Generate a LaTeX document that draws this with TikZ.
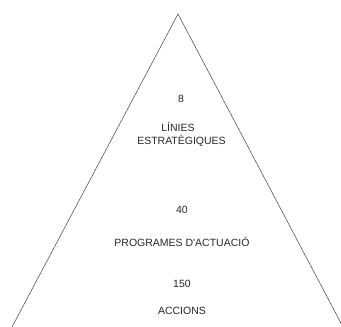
\documentclass[tikz,border=0pt]{standalone}
\usepackage{fontspec}
\setmainfont{Liberation Sans}
\usetikzlibrary{positioning}
\tikzstyle{costat} = [draw=black!75, line width=0.5pt]
\tikzstyle{nivell} = [inner sep=0pt, anchor=base, text=black!85, font=\fontsize{10.5}{12.6}\selectfont]
\tikzstyle{quantitat} = [nivell]

\begin{document}
\begin{tikzpicture}[x=1pt, y=-1pt]
                    \useasboundingbox (0,0) rectangle (341,327);
                    \coordinate (cim) at (178,14);
                    \coordinate (baseesq) at (12,327);
                    \coordinate (basedre) at (343,327);
                    \draw[costat] (baseesq) -- (cim) -- (basedre);

                    \node[quantitat] (nlinies) at (181,102) {8};
                    \node[nivell] (linies) at (178,131) {LÍNIES};
                    \node[nivell] (estrategiques) at (181.5,144) {ESTRATÈGIQUES};

                    \node[quantitat] (nprogrames) at (182,213) {40};
                    \node[nivell] (programes) at (182,246) {PROGRAMES D\textquotesingle ACTUACIÓ};

                    \node[quantitat] (naccions) at (182,287) {150};
                    \node[nivell] (accions) at (182,314) {ACCIONS};
                \end{tikzpicture}
\end{document}
